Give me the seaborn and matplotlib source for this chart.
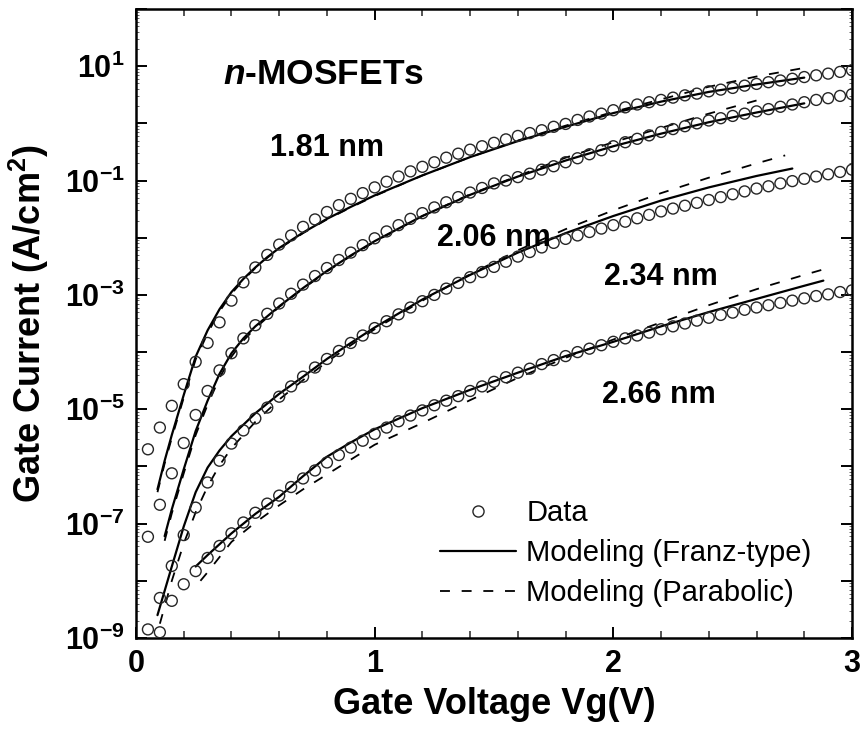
import numpy as np
import pandas as pd
import matplotlib
matplotlib.use("Agg")
import matplotlib.pyplot as plt
import seaborn as sns
from matplotlib.lines import Line2D
from matplotlib.ticker import FixedLocator, FuncFormatter, MultipleLocator, LogLocator, NullFormatter

# ---------------- data (log10 of gate current density, A/cm^2) ----------------
vg = [0.05, 0.10, 0.15, 0.20, 0.25, 0.30, 0.35, 0.40, 0.45, 0.50,
      0.55, 0.60, 0.65, 0.70, 0.75, 0.80, 0.85, 0.90, 0.95, 1.00,
      1.05, 1.10, 1.15, 1.20, 1.25, 1.30, 1.35, 1.40, 1.45, 1.50,
      1.55, 1.60, 1.65, 1.70, 1.75, 1.80, 1.85, 1.90, 1.95, 2.00,
      2.05, 2.10, 2.15, 2.20, 2.25, 2.30, 2.35, 2.40, 2.45, 2.50,
      2.55, 2.60, 2.65, 2.70, 2.75, 2.80, 2.85, 2.90, 2.95, 3.00]

log_181 = [-5.70, -5.32, -4.94, -4.56, -4.17, -3.84, -3.48, -3.10, -2.78, -2.52,
           -2.30, -2.12, -1.96, -1.81, -1.68, -1.55, -1.43, -1.32, -1.22, -1.12,
           -1.02, -0.93, -0.84, -0.76, -0.68, -0.60, -0.53, -0.46, -0.40, -0.34,
           -0.28, -0.22, -0.17, -0.12, -0.06, -0.01, 0.06, 0.12, 0.17, 0.23,
           0.28, 0.33, 0.37, 0.41, 0.45, 0.49, 0.52, 0.56, 0.59, 0.62,
           0.66, 0.69, 0.72, 0.75, 0.78, 0.81, 0.84, 0.87, 0.90, 0.93]
log_206 = [-7.23, -6.67, -6.12, -5.59, -5.10, -4.68, -4.32, -4.02, -3.76, -3.53,
           -3.33, -3.15, -2.98, -2.82, -2.67, -2.53, -2.39, -2.26, -2.13, -2.01,
           -1.89, -1.78, -1.67, -1.57, -1.47, -1.38, -1.29, -1.21, -1.13, -1.05,
           -1.00, -0.94, -0.88, -0.81, -0.75, -0.68, -0.61, -0.54, -0.47, -0.40,
           -0.33, -0.27, -0.21, -0.15, -0.10, -0.05, 0.00, 0.05, 0.09, 0.13,
           0.17, 0.21, 0.25, 0.29, 0.33, 0.37, 0.41, 0.44, 0.48, 0.51]
log_234 = [-8.85, -8.30, -7.74, -7.20, -6.72, -6.28, -5.90, -5.60, -5.37, -5.16,
           -4.97, -4.78, -4.60, -4.43, -4.27, -4.12, -3.98, -3.84, -3.71, -3.58,
           -3.46, -3.34, -3.22, -3.11, -3.00, -2.89, -2.79, -2.69, -2.60, -2.51,
           -2.42, -2.33, -2.25, -2.17, -2.09, -2.02, -1.96, -1.90, -1.84, -1.78,
           -1.72, -1.66, -1.60, -1.54, -1.49, -1.44, -1.39, -1.34, -1.29, -1.24,
           -1.19, -1.14, -1.10, -1.05, -1.01, -0.97, -0.93, -0.89, -0.85, -0.81]
log_266 = [np.nan, -8.90, -8.35, -8.06, -7.83, -7.60, -7.39, -7.17, -6.98, -6.81,
           -6.65, -6.51, -6.36, -6.21, -6.07, -5.93, -5.80, -5.67, -5.55, -5.43,
           -5.32, -5.21, -5.11, -5.02, -4.93, -4.85, -4.77, -4.68, -4.60, -4.52,
           -4.44, -4.36, -4.29, -4.21, -4.14, -4.07, -4.00, -3.94, -3.88, -3.82,
           -3.76, -3.71, -3.66, -3.60, -3.55, -3.50, -3.45, -3.40, -3.35, -3.31,
           -3.26, -3.22, -3.18, -3.14, -3.10, -3.06, -3.02, -2.99, -2.95, -2.92]

# Franz-type model (solid)
franz_181_v = [0.09, 0.12, 0.15, 0.20, 0.25, 0.30, 0.35, 0.40, 0.45, 0.50, 0.55, 0.60, 0.70,
               0.80, 0.90, 1.00, 1.20, 1.40, 1.60, 1.80, 2.00, 2.20, 2.40, 2.60, 2.80]
franz_181 = [-6.40, -5.90, -5.45, -4.75, -4.08, -3.62, -3.25, -2.95, -2.72, -2.52, -2.34, -2.18, -1.91,
             -1.67, -1.46, -1.26, -0.91, -0.59, -0.31, -0.06, 0.18, 0.38, 0.55, 0.68, 0.80]
franz_206_v = [0.12, 0.15, 0.20, 0.25, 0.30, 0.35, 0.40, 0.45, 0.50, 0.60, 0.70, 0.80,
               0.90, 1.00, 1.20, 1.40, 1.60, 1.80, 2.00, 2.20, 2.40, 2.60, 2.80]
franz_206 = [-7.22, -6.75, -6.05, -5.38, -4.85, -4.38, -4.02, -3.76, -3.55, -3.20, -2.88, -2.58,
             -2.31, -2.06, -1.62, -1.25, -0.93, -0.65, -0.40, -0.18, 0.02, 0.19, 0.35]
franz_234_v = [0.09, 0.15, 0.20, 0.25, 0.30, 0.35, 0.40, 0.50, 0.60, 0.70, 0.80, 0.90,
               1.00, 1.20, 1.40, 1.60, 1.80, 2.00, 2.20, 2.40, 2.60, 2.75]
franz_234 = [-8.60, -7.75, -7.05, -6.45, -6.02, -5.72, -5.47, -5.07, -4.73, -4.43, -4.12, -3.84,
             -3.57, -3.08, -2.65, -2.26, -1.92, -1.62, -1.35, -1.12, -0.92, -0.79]
franz_266_v = [0.25, 0.30, 0.40, 0.50, 0.60, 0.70, 0.80, 0.90, 1.00, 1.20, 1.40, 1.60,
               1.80, 2.00, 2.20, 2.40, 2.60, 2.80, 2.88]
franz_266 = [-7.75, -7.55, -7.17, -6.83, -6.53, -6.17, -5.83, -5.58, -5.35, -4.98, -4.66, -4.36,
             -4.07, -3.82, -3.55, -3.30, -3.07, -2.84, -2.75]

# Parabolic model (dashed)
para_181_v = franz_181_v
para_181 = [-6.45, -5.95, -5.50, -4.80, -4.13, -3.67, -3.29, -2.98, -2.74, -2.53, -2.35, -2.19, -1.92,
            -1.68, -1.47, -1.27, -0.91, -0.59, -0.30, -0.04, 0.20, 0.42, 0.64, 0.82, 0.97]
para_206_v = [0.12, 0.15, 0.20, 0.25, 0.30, 0.35, 0.40, 0.45, 0.50, 0.60, 0.70, 0.80,
              0.90, 1.00, 1.20, 1.40, 1.60, 1.80, 2.00, 2.20, 2.40, 2.60]
para_206 = [-7.30, -6.82, -6.12, -5.45, -4.92, -4.45, -4.08, -3.80, -3.58, -3.21, -2.89, -2.59,
            -2.32, -2.07, -1.62, -1.24, -0.92, -0.60, -0.33, -0.08, 0.17, 0.40]
para_234_v = [0.10, 0.15, 0.20, 0.25, 0.30, 0.35, 0.40, 0.50, 0.60, 0.70, 0.80, 0.90,
              1.00, 1.20, 1.40, 1.60, 1.80, 2.00, 2.20, 2.40, 2.60, 2.72]
para_234 = [-8.75, -8.00, -7.35, -6.80, -6.35, -5.98, -5.68, -5.22, -4.83, -4.49, -4.17, -3.88,
            -3.60, -3.10, -2.64, -2.22, -1.85, -1.52, -1.22, -0.95, -0.70, -0.56]
para_266_v = [0.27, 0.30, 0.40, 0.50, 0.60, 0.70, 0.80, 0.90, 1.00, 1.20, 1.40, 1.60,
              1.80, 2.00, 2.20, 2.40, 2.60, 2.80, 2.90]
para_266 = [-8.00, -7.85, -7.32, -6.98, -6.68, -6.40, -6.14, -5.88, -5.62, -5.24, -4.84, -4.45,
            -4.10, -3.78, -3.48, -3.18, -2.90, -2.65, -2.53]

thickness_labels = ["1.81 nm", "2.06 nm", "2.34 nm", "2.66 nm"]
label_pos = [(0.80, -0.43), (1.50, -2.00), (2.20, -2.69), (2.19, -4.75)]

# ---------------- style ----------------
sns.set_theme(style="ticks")
plt.rcParams["font.family"] = ["Liberation Sans", "DejaVu Sans"]
plt.rcParams["text.color"] = "black"
plt.rcParams["axes.labelcolor"] = "black"
plt.rcParams["mathtext.fontset"] = "custom"
plt.rcParams["mathtext.rm"] = "Liberation Sans:bold"
plt.rcParams["mathtext.bf"] = "Liberation Sans:bold"
plt.rcParams["mathtext.it"] = "Liberation Sans:italic:bold"
plt.rcParams["mathtext.default"] = "bf"

fig = plt.figure(figsize=(8.6, 7.34), dpi=100)
ax = fig.add_axes([136 / 860, 96 / 734, 716 / 860, 629 / 734])

data_sets = [log_181, log_206, log_234, log_266]
franz_sets = [(franz_181_v, franz_181), (franz_206_v, franz_206),
              (franz_234_v, franz_234), (franz_266_v, franz_266)]
para_sets = [(para_181_v, para_181), (para_206_v, para_206),
             (para_234_v, para_234), (para_266_v, para_266)]

for (fv, fl), (pv, pl) in zip(franz_sets, para_sets):
    sns.lineplot(x=fv, y=10 ** np.array(fl), ax=ax, color="black", lw=1.6,
                 estimator=None, sort=False, legend=False)
    sns.lineplot(x=pv, y=10 ** np.array(pl), ax=ax, color="black", lw=1.3,
                 estimator=None, sort=False, legend=False, dashes=False,
                 linestyle=(0, (5.5, 6.5)))

for vals in data_sets:
    df = pd.DataFrame({"vg": vg, "j": 10 ** np.array(vals, dtype=float)}).dropna()
    sns.scatterplot(data=df, x="vg", y="j", ax=ax, marker="o", s=62,
                    facecolor="none", edgecolor="#262626", linewidth=1.0,
                    legend=False, zorder=3)

ax.set_yscale("log")
ax.set_xlim(0, 3)
ax.set_ylim(1e-9, 1e2)

# ticks
ax.xaxis.set_major_locator(MultipleLocator(1))
ax.xaxis.set_minor_locator(MultipleLocator(0.2))
ax.xaxis.set_major_formatter(FuncFormatter(lambda v, p: f"{v:.0f}"))
ax.yaxis.set_major_locator(FixedLocator([10.0 ** k for k in range(-9, 3)]))

def yfmt(v, p):
    k = int(round(np.log10(v)))
    if k % 2 != 0:
        return r"$10^{%d}$" % k
    return ""

ax.yaxis.set_major_formatter(FuncFormatter(yfmt))
ax.yaxis.set_minor_locator(LogLocator(base=10, subs=np.arange(2, 10), numticks=50))
ax.yaxis.set_minor_formatter(NullFormatter())

ax.tick_params(which="major", direction="in", top=True, right=True, length=8, width=1.4,
               labelsize=22, pad=8, color="black", labelcolor="black")
ax.tick_params(which="minor", axis="x", direction="in", top=True, right=True, length=5, width=1.1)
ax.tick_params(which="minor", axis="y", direction="in", left=True, right=True, length=2.5, width=0.5)
for lab in ax.get_xticklabels():
    lab.set_fontweight("bold")

for sp in ax.spines.values():
    sp.set_linewidth(1.8)
    sp.set_color("black")

ax.set_xlabel("Gate Voltage Vg(V)", fontsize=26, fontweight="bold", labelpad=6, color="black")
ax.set_ylabel(r"Gate Current (A/cm$^{2}$)", fontsize=26, fontweight="bold", labelpad=10, color="black")

# annotations
ax.text(0.365, 10 ** 0.85, r"$\mathit{n}$-MOSFETs", fontsize=25.5, fontweight="bold",
        ha="left", va="center", color="black")
for lab, (x, ly) in zip(thickness_labels, label_pos):
    ax.text(x, 10 ** ly, lab, fontsize=22, fontweight="bold", ha="center", va="center", color="black")

# legend
handles = [
    Line2D([], [], marker="o", ls="none", mfc="none", mec="#262626", ms=8, mew=1.0),
    Line2D([], [], color="black", lw=1.6),
    Line2D([], [], color="black", lw=1.3, linestyle=(0, (5.5, 6.5))),
]
labels = ["Data", "Modeling (Franz-type)", "Modeling (Parabolic)"]
leg = ax.legend(handles, labels, loc="center left", bbox_to_anchor=(0.425, 0.135), frameon=False,
                fontsize=21, handlelength=2.6, handletextpad=0.35, labelspacing=0.42,
                borderpad=0, borderaxespad=0)
for t in leg.get_texts():
    t.set_color("black")

fig.savefig("out.png", dpi=100)
